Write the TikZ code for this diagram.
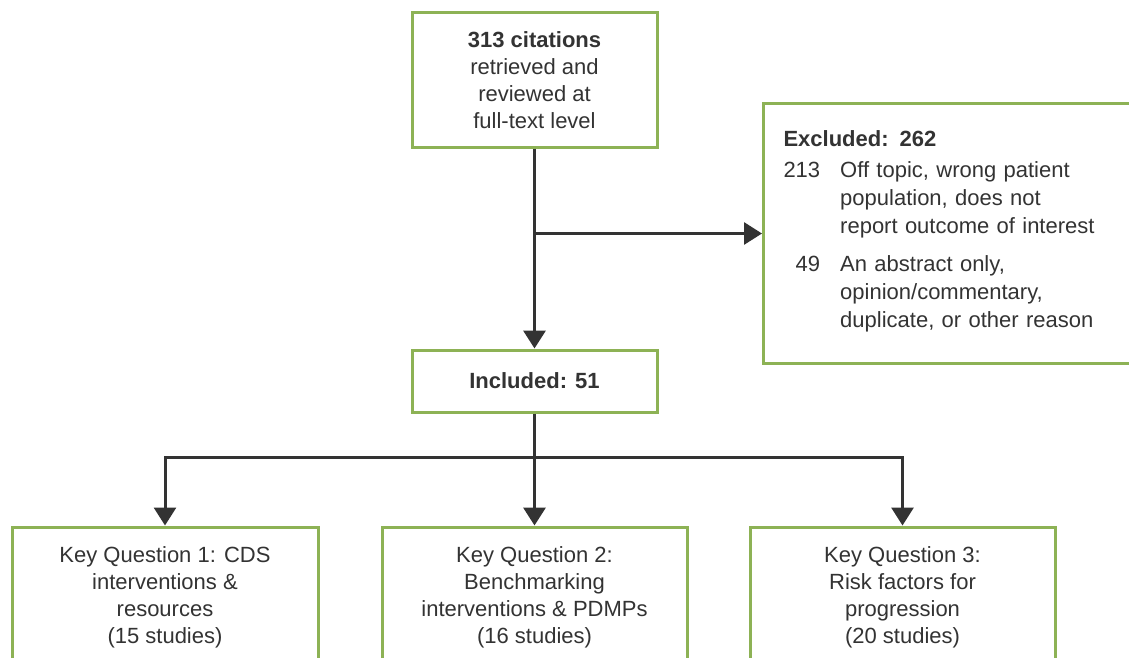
\documentclass[tikz,border=0pt]{standalone}
\usepackage{fontspec}
\setmainfont{Liberation Sans}
\usetikzlibrary{arrows.meta}
\definecolor{boxgreen}{HTML}{8DB255}
\definecolor{inkgray}{HTML}{333333}
\begin{document}
\begin{tikzpicture}[x=1pt, y=-1pt,
    every node/.style={font=\fontsize{22}{27}\selectfont, text=inkgray},
    flowbox/.style={draw=boxgreen, line width=3pt, fill=white, align=center,
      inner sep=0pt},
    flowline/.style={draw=inkgray, line width=3.4pt},
    flowarrow/.style={flowline, -{Triangle[length=18pt, width=22pt]}}]
  \useasboundingbox (0,0) rectangle (1129,658);
  \node[flowbox, minimum width=245, minimum height=134] (cited) at (534.5,80)
    {\textbf{313 citations}\\retrieved and\\reviewed at\\full-text level};
  \node[flowbox, minimum width=380, minimum height=259, anchor=west,
        align=left, text width=340] (excl) at (762,233.5)
    {\textbf{Excluded: 262}\\[10pt]
     \renewcommand{\arraystretch}{1.04}%
     \begin{tabular}{@{}r@{\hspace{20pt}}l@{}}
       213 & Off topic, wrong patient\\
           & population, does not\\
           & report outcome of interest\\[10pt]
       49  & An abstract only,\\
           & opinion/commentary,\\
           & duplicate, or other reason
     \end{tabular}};
  \node[flowbox, minimum width=245, minimum height=62] (incl) at (534.5,381)
    {\textbf{Included: 51}};
  \node[flowbox, minimum width=306, minimum height=140] (kq1) at (165,597)
    {Key Question 1: CDS\\interventions \&\\resources\\(15 studies)};
  \node[flowbox, minimum width=305, minimum height=140] (kq2) at (534.5,597)
    {Key Question 2:\\Benchmarking\\interventions \& PDMPs\\(16 studies)};
  \node[flowbox, minimum width=305, minimum height=140] (kq3) at (902.5,597)
    {Key Question 3:\\Risk factors for\\progression\\(20 studies)};
  \coordinate (fork) at (534.5,457);
  \draw[flowarrow] (cited) -- (incl);
  \draw[flowarrow, line width=3pt] (cited.south |- excl.west) -- (excl.west);
  \draw[flowline] (incl) -- (fork);
  \draw[flowarrow, line width=3pt] (fork) -| (kq1);
  \draw[flowarrow, line width=3pt] (fork) -| (kq3);
  \draw[flowarrow] (fork) -- (kq2);
\end{tikzpicture}
\end{document}
